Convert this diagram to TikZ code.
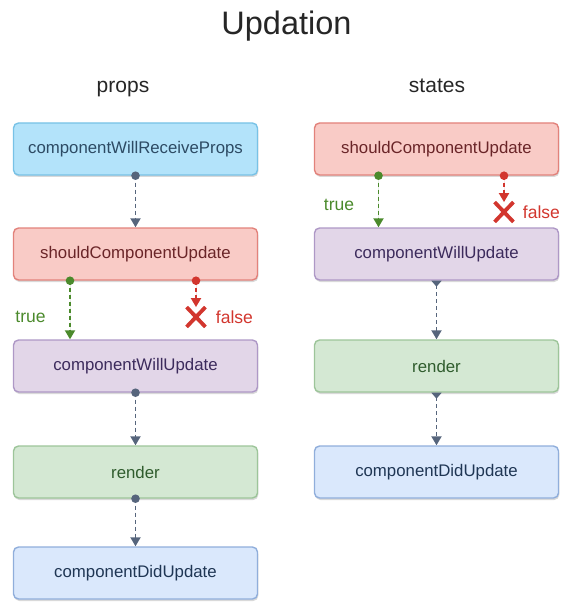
\documentclass[tikz,border=0pt]{standalone}
\usepackage{fontspec}
\setmainfont{Liberation Sans}
\usetikzlibrary{arrows.meta}
\usetikzlibrary{shapes.misc}
\usetikzlibrary{shadows}
\usetikzlibrary{positioning}

\definecolor{flowclr}{HTML}{56657C}
\definecolor{trueclr}{HTML}{4B8A2C}
\definecolor{falseclr}{HTML}{D2362E}
\definecolor{bluefill}{HTML}{B3E3FA}
\definecolor{blueline}{HTML}{78C2E6}
\definecolor{bluetext}{HTML}{2D4B64}
\definecolor{redfill}{HTML}{F9CBC6}
\definecolor{redline}{HTML}{E2827B}
\definecolor{redtext}{HTML}{6A2528}
\definecolor{purpfill}{HTML}{E2D6E8}
\definecolor{purpline}{HTML}{AE98C6}
\definecolor{purptext}{HTML}{3C2B5C}
\definecolor{greenfill}{HTML}{D4E8D3}
\definecolor{greenline}{HTML}{9DC59A}
\definecolor{greentext}{HTML}{2F5C2D}
\definecolor{lbluefill}{HTML}{DAE8FC}
\definecolor{lblueline}{HTML}{90AEDB}
\definecolor{lbluetext}{HTML}{1F3654}

\begin{document}
\begin{tikzpicture}[x=1pt,y=-1pt,
  box/.style={draw,line width=1.4pt,rounded corners=5pt,minimum width=244pt,minimum height=52pt,
    font=\fontsize{16.8}{18}\selectfont,
    drop shadow={shadow xshift=0.8pt,shadow yshift=-2pt,opacity=0.3}},
  bluebox/.style={box,fill=bluefill,draw=blueline,text=bluetext},
  redbox/.style={box,fill=redfill,draw=redline,text=redtext},
  purpbox/.style={box,fill=purpfill,draw=purpline,text=purptext},
  greenbox/.style={box,fill=greenfill,draw=greenline,text=greentext},
  lbluebox/.style={box,fill=lbluefill,draw=lblueline,text=lbluetext},
  flow/.style={draw=flowclr,line width=1.9pt,dash pattern=on 4pt off 3pt,-{Triangle[width=10pt,length=9pt]}},
  trueflow/.style={flow,draw=trueclr,fill=trueclr},
  falseflow/.style={flow,draw=falseclr,fill=falseclr},
  nope/.style={cross out,draw=falseclr,line width=3.8pt,minimum width=15pt,minimum height=16pt,inner sep=0pt},
  lbl/.style={font=\fontsize{17.5}{19}\selectfont,anchor=base},
  head/.style={font=\fontsize{21}{24}\selectfont,text=black!85,anchor=base}]
\useasboundingbox (0,0) rectangle (573,612);

\node[font=\fontsize{32.5}{36}\selectfont,text=black!85,anchor=base] (title) at (286.5,35) {Updation};
\node[head] (props) at (123,93) {props};
\node[head] (states) at (437,93) {states};

\node[bluebox] (cwrp) at (135.5,149) {componentWillReceiveProps};
\node[redbox] (scuL) at (135.5,254) {shouldComponentUpdate};
\node[purpbox] (cwuL) at (135.5,366) {componentWillUpdate};
\node[greenbox] (renL) at (135.5,472) {render};
\node[lbluebox] (cduL) at (135.5,573) {componentDidUpdate};

\node[redbox] (scuR) at (436.5,149) {shouldComponentUpdate};
\node[purpbox] (cwuR) at (436.5,254) {componentWillUpdate};
\node[greenbox] (renR) at (436.5,366) {render};
\node[lbluebox] (cduR) at (436.5,472) {componentDidUpdate};

\draw[flow] (cwrp.south) -- (scuL.north);
\fill[flowclr] (cwrp.south) circle (4.3);
\draw[trueflow] ([xshift=-65.5pt]scuL.south) -- ([xshift=-65.5pt]cwuL.north);
\fill[trueclr] ([xshift=-65.5pt]scuL.south) circle (4.3);
\node[lbl,text=trueclr] (trueL) at (30.5,322) {true};
\node[nope] (noL) at (196,317) {};
\draw[falseflow] ([xshift=60.5pt]scuL.south) -- (noL.north);
\fill[falseclr] ([xshift=60.5pt]scuL.south) circle (4.3);
\node[lbl,text=falseclr,anchor=west,right=7pt of noL] (falseL) {false};
\draw[flow] (cwuL.south) -- (renL.north);
\fill[flowclr] (cwuL.south) circle (4.3);
\draw[flow] (renL.south) -- (cduL.north);
\fill[flowclr] (renL.south) circle (4.3);

\draw[trueflow] ([xshift=-58pt]scuR.south) -- ([xshift=-58pt]cwuR.north);
\fill[trueclr] ([xshift=-58pt]scuR.south) circle (4.3);
\node[lbl,text=trueclr] (trueR) at (339,211) {true};
\node[nope] (noR) at (504,212) {};
\draw[falseflow] ([xshift=67.5pt]scuR.south) -- (noR.north);
\fill[falseclr] ([xshift=67.5pt]scuR.south) circle (4.3);
\node[lbl,text=falseclr,anchor=west,right=6pt of noR] (falseR) {false};
\draw[flow,{Triangle[reversed,width=10pt,length=6pt]}-{Triangle[width=10pt,length=9pt]}] (cwuR.south) -- (renR.north);
\draw[flow,{Triangle[reversed,width=10pt,length=6pt]}-{Triangle[width=10pt,length=9pt]}] (renR.south) -- (cduR.north);
\end{tikzpicture}
\end{document}
